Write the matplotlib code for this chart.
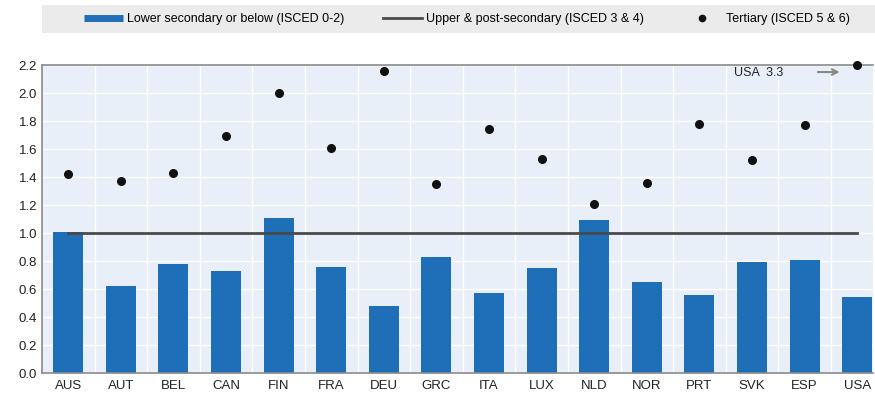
import numpy as np
import matplotlib.pyplot as plt
from matplotlib.patches import Rectangle
from matplotlib.lines import Line2D

plt.rcParams['font.family'] = ['Liberation Sans', 'DejaVu Sans']

# Data
countries = ["AUS", "AUT", "BEL", "CAN", "FIN", "FRA", "DEU", "GRC",
             "ITA", "LUX", "NLD", "NOR", "PRT", "SVK", "ESP", "USA"]
lower_secondary = [1.01, 0.62, 0.78, 0.73, 1.11, 0.76, 0.48, 0.83,
                   0.57, 0.75, 1.09, 0.65, 0.56, 0.79, 0.81, 0.54]
upper_secondary = [1.0] * 16
tertiary = [1.42, 1.37, 1.43, 1.69, 2.0, 1.61, 2.16, 1.35,
            1.74, 1.53, 1.21, 1.36, 1.78, 1.52, 1.77, 3.3]
y_max = 2.2

x = np.arange(len(countries))

fig = plt.figure(figsize=(8.75, 3.99), dpi=100)
ax = fig.add_axes([0.048, 0.065, 0.9497, 0.772])
ax.set_facecolor('#e9eff8')

bar_color = '#1f6fb8'
line_color = '#4a4a4a'
dot_color = '#111111'

ax.bar(x, lower_secondary, width=0.57, color=bar_color, zorder=2)
ax.plot(x, upper_secondary, color=line_color, lw=2, zorder=3)
# values above the axis limit are pinned to the top and annotated
tert_plot = np.minimum(tertiary, y_max)
ax.plot(x, tert_plot, 'o', color=dot_color, ms=5.5, zorder=4,
        clip_on=False, linestyle='none')

ax.annotate('', xy=(14.72, 2.15), xytext=(14.2, 2.15),
            arrowprops=dict(arrowstyle='->', color='#888888', lw=1.5))
ax.text(12.65, 2.14, f'USA  {tertiary[-1]}', fontsize=9, color='#222222',
        va='center', ha='left')

ax.set_xlim(-0.5, 15.3)
ax.set_ylim(0, y_max)
ax.set_yticks(np.arange(0, 2.21, 0.2))
ax.set_yticklabels([f'{v:.1f}' for v in np.arange(0, 2.21, 0.2)])
ax.set_xticks(x)
ax.set_xticklabels(countries)
ax.set_xticks(x[:-1] + 0.5, minor=True)
ax.tick_params(axis='both', which='both', length=0, labelsize=9.5,
               colors='#222222')
ax.tick_params(axis='x', pad=5)
ax.grid(True, axis='y', color='white', lw=1, zorder=0)
ax.grid(True, axis='x', which='minor', color='white', lw=1, zorder=0)
ax.set_axisbelow(True)

for side in ['left', 'top', 'bottom']:
    ax.spines[side].set_color('#8a8a8a')
    ax.spines[side].set_linewidth(1.2)
ax.spines['right'].set_visible(False)

# legend strip on a grey band
fig.patches.append(Rectangle((0.048, 0.917), 0.952, 0.07, transform=fig.transFigure,
                             facecolor='#ebebeb', edgecolor='none', zorder=0))
handles = [Line2D([], [], color=bar_color, lw=5, solid_capstyle='butt'),
           Line2D([], [], color=line_color, lw=2),
           Line2D([], [], color=dot_color, marker='o', ms=4.5, linestyle='none')]
labels = ['Lower secondary or below (ISCED 0-2)',
          'Upper & post-secondary (ISCED 3 & 4)',
          'Tertiary (ISCED 5 & 6)']
fig.legend(handles, labels, loc='center left', bbox_to_anchor=(0.0905, 0.952),
           ncol=3, frameon=False, fontsize=9, handlelength=3.1,
           handletextpad=0.3, columnspacing=3.15, borderaxespad=0)

fig.savefig('out.png', dpi=100)
